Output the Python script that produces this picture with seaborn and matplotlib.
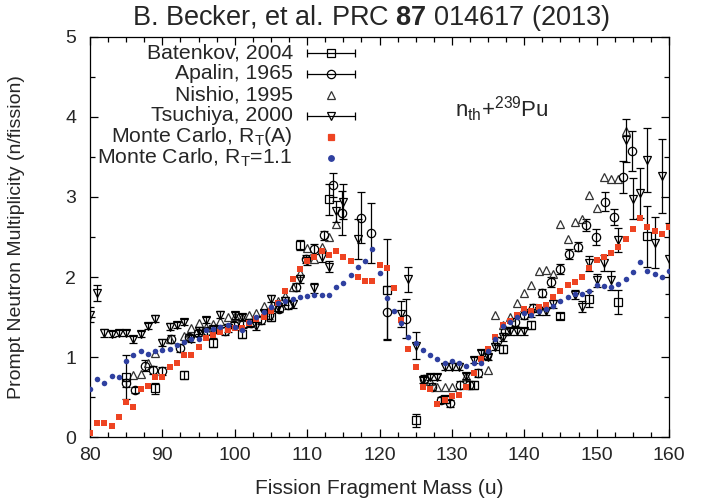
import matplotlib
matplotlib.use("Agg")
import matplotlib.pyplot as plt
import numpy as np
import pandas as pd
import seaborn as sns
from matplotlib.ticker import MultipleLocator
from matplotlib.lines import Line2D

# ---------------- data ----------------
mass_model = list(range(80, 161))
nu_rta = [0.05, 0.17, 0.18, 0.14, 0.25, 0.44, 0.37, 0.60, 0.64, 0.75,
          0.75, 0.88, 0.93, 1.02, 1.03, 1.12, 1.24, 1.28, 1.31, 1.34,
          1.36, 1.36, 1.43, 1.47, 1.50, 1.58, 1.67, 1.82, 1.97, 2.10,
          2.20, 2.25, 2.33, 2.28, 2.32, 2.25, 2.20, 2.00, 1.95, 1.95,
          2.15, 2.11, 1.86, 1.46, 1.10, 0.87, 0.62, 0.60, 0.41, 0.46,
          0.51, 0.53, 0.63, 0.80, 0.97, 1.10, 1.25, 1.40, 1.45, 1.53,
          1.60, 1.58, 1.62, 1.65, 1.75, 1.82, 1.90, 1.94, 2.00, 2.11,
          2.21, 2.25, 2.30, 2.38, 2.48, 2.60, 2.74, 2.63, 2.57, 2.54,
          2.62]
nu_rt11 = [0.60, 0.72, 0.67, 0.76, 0.75, 0.95, 1.02, 1.07, 1.04, 1.08,
           1.09, 1.10, 1.15, 1.19, 1.22, 1.23, 1.34, 1.35, 1.38, 1.40,
           1.37, 1.34, 1.44, 1.50, 1.56, 1.62, 1.67, 1.70, 1.72, 1.75,
           1.76, 1.77, 1.78, 1.78, 1.87, 1.93, 2.03, 2.12, 2.20, 2.35,
           2.05, 1.74, 1.58, 1.43, 1.25, 1.18, 1.09, 1.03, 0.98, 0.93,
           0.95, 0.92, 0.89, 0.92, 0.93, 1.07, 1.23, 1.39, 1.44, 1.50,
           1.55, 1.53, 1.57, 1.60, 1.64, 1.70, 1.75, 1.79, 1.79, 1.82,
           1.90, 1.89, 1.88, 1.91, 1.98, 2.06, 2.19, 2.07, 2.04, 2.00,
           2.08]

bat_mass = [85, 89, 93, 97, 101, 105, 109, 113, 121, 125, 129, 133, 137, 141, 145, 149, 153, 157]
bat_nu   = [0.75, 0.61, 0.77, 1.18, 1.29, 1.50, 2.40, 2.97, 1.84, 0.21, 0.47, 0.65, 1.10, 1.40, 1.51, 1.72, 1.69, 2.51]
bat_err  = [0.28, 0.07, 0.05, 0.06, 0.05, 0.05, 0.06, 0.19, 0.63, 0.08, 0.04, 0.05, 0.05, 0.05, 0.04, 0.10, 0.15, 0.38]

apa_mass = [85.0, 86.2, 87.6, 88.7, 90.0, 91.2, 92.4, 93.7, 94.9, 96.2,
            97.4, 98.6, 99.9, 101.1, 102.3, 103.6, 104.8, 106.1, 107.3, 108.5,
            109.8, 111.0, 112.3, 113.6, 114.8, 117.5, 118.8, 121.1, 123.7, 126.1,
            127.3, 128.5, 129.8, 131.1, 132.4, 133.6, 134.9, 136.2, 137.4, 138.7,
            139.9, 141.2, 142.4, 143.7, 144.9, 146.2, 147.4, 148.6, 149.9, 151.2,
            152.4, 153.6, 154.9]
apa_nu = [0.67, 0.59, 0.89, 0.84, 0.82, 1.23, 1.11, 1.25, 1.30, 1.32,
          1.35, 1.33, 1.40, 1.41, 1.43, 1.46, 1.52, 1.60, 1.65, 1.88,
          2.23, 2.35, 2.52, 3.15, 2.80, 2.74, 2.55, 1.56, 1.48, 0.73,
          0.63, 0.46, 0.42, 0.65, 0.65, 0.80, 1.02, 1.20, 1.32, 1.44,
          1.53, 1.61, 1.80, 1.94, 2.10, 2.29, 2.38, 2.65, 2.50, 2.94,
          2.75, 3.25, 3.57]
apa_err = [0.05, 0.04, 0.07, 0.05, 0.05, 0.05, 0.05, 0.04, 0.04, 0.04,
           0.04, 0.05, 0.04, 0.05, 0.04, 0.05, 0.04, 0.04, 0.05, 0.05,
           0.05, 0.06, 0.06, 0.15, 0.27, 0.32, 0.37, 0.33, 0.24, 0.05,
           0.04, 0.04, 0.04, 0.05, 0.05, 0.05, 0.05, 0.05, 0.05, 0.05,
           0.05, 0.05, 0.05, 0.06, 0.06, 0.06, 0.06, 0.07, 0.10, 0.12,
           0.10, 0.20, 0.25]

nis_mass = [86, 87, 88, 89, 91, 93, 94, 95, 96, 97, 98, 99, 100, 101, 102, 103, 104, 105,
            106, 107, 108, 109, 110, 111, 112, 113, 114,
            127, 128, 129, 130, 132, 135, 136, 137, 138, 139, 140, 141, 142, 143, 144,
            145, 146, 147, 148, 149, 150, 151, 152, 153, 154]
nis_nu = [0.78, 0.79, 0.93, 1.05, 1.22, 1.26, 1.36, 1.43, 1.37, 1.41, 1.45, 1.50, 1.51, 1.50, 1.52, 1.55, 1.64, 1.62,
          1.70, 1.76, 1.87, 2.05, 2.36, 2.23, 2.38, 2.50, 2.66,
          0.70, 0.62, 0.63, 0.62, 0.76, 0.84, 1.53, 1.40, 1.50, 1.67, 1.80, 1.90, 2.07, 2.09, 2.04,
          2.66, 2.47, 2.69, 2.73, 3.03, 2.86, 3.25, 3.23, 3.23, 3.82]

tsu_mass = [80, 81, 82, 83, 84, 85, 86, 87, 88, 89, 90, 91, 92, 93, 94, 95, 96, 97, 98, 99,
            100, 101, 102, 103, 104, 105, 106, 107, 108, 109, 110, 111, 112, 113, 114, 115, 117,
            123, 124, 125, 126, 127, 128, 129, 130, 131, 132, 133, 134, 135, 136, 137, 138, 139,
            140, 141, 142, 143, 144, 147, 148, 149, 150, 151, 152, 153, 154, 155, 156, 157, 158,
            159, 160]
tsu_nu = [1.53, 1.80, 1.30, 1.29, 1.30, 1.30, 1.22, 1.29, 1.39, 1.48, 1.18, 1.38, 1.40, 1.44, 1.23, 1.33, 1.46, 1.35, 1.53, 1.36,
          1.52, 1.50, 1.42, 1.39, 1.55, 1.73, 1.62, 1.70, 1.66, 1.97, 2.20, 1.86, 2.25, 2.13, 2.82, 2.94, 2.47,
          1.54, 1.97, 1.14, 0.71, 0.75, 0.75, 0.88, 0.88, 0.88, 0.76, 0.96, 1.05, 1.00, 1.13, 1.25, 1.32, 1.32,
          1.32, 1.55, 1.57, 1.57, 1.66, 1.78, 1.63, 2.17, 1.96, 2.18, 1.96, 2.46, 3.71, 2.98, 3.05, 3.46, 2.43,
          3.26, 2.23]
tsu_err = [0.09, 0.10, 0.05, 0.04, 0.04, 0.04, 0.04, 0.04, 0.04, 0.04, 0.04, 0.04, 0.04, 0.04, 0.04, 0.04, 0.04, 0.04, 0.04, 0.05,
           0.04, 0.04, 0.04, 0.05, 0.04, 0.04, 0.05, 0.05, 0.05, 0.05, 0.05, 0.06, 0.06, 0.07, 0.13, 0.22, 0.25,
           0.16, 0.16, 0.17, 0.04, 0.04, 0.04, 0.04, 0.04, 0.04, 0.04, 0.04, 0.04, 0.04, 0.04, 0.05, 0.04, 0.04,
           0.04, 0.05, 0.05, 0.05, 0.05, 0.06, 0.07, 0.09, 0.08, 0.10, 0.12, 0.15, 0.27, 0.26, 0.31, 0.40, 0.32,
           0.46, 0.44]

legend_labels = ["Batenkov, 2004", "Apalin, 1965", "Nishio, 1995", "Tsuchiya, 2000",
                 r"Monte Carlo, R$_\mathrm{T}$(A)", r"Monte Carlo, R$_\mathrm{T}$=1.1"]
title_text = r"B. Becker, et al. PRC $\mathbf{87}$ 014617 (2013)"
xlabel_text = "Fission Fragment Mass (u)"
ylabel_text = "Prompt Neutron Multiplicity (n/fission)"
reaction_text = r"n$_\mathrm{th}$+$^{239}$Pu"

# ---------------- style ----------------
sns.set_theme(style="ticks")
plt.rcParams['font.family'] = ['Liberation Sans', 'DejaVu Sans']
plt.rcParams['mathtext.fontset'] = 'custom'
plt.rcParams['mathtext.rm'] = 'Liberation Sans'
plt.rcParams['mathtext.it'] = 'Liberation Sans:italic'
plt.rcParams['mathtext.bf'] = 'Liberation Sans:bold'

RED = '#ee4422'
BLUE = '#2f40a0'
W, H = 702, 503
L, R, T, B = 90, 669, 37, 437

fig = plt.figure(figsize=(W / 100, H / 100), dpi=100)
ax = fig.add_axes([L / W, 1 - B / H, (R - L) / W, (B - T) / H])

ebkw = dict(ecolor='black', elinewidth=0.9, capsize=2.8, capthick=0.9,
            mfc='none', mec='black', mew=0.9, ls='none', zorder=3)
ax.errorbar(bat_mass, bat_nu, yerr=bat_err, fmt='s', ms=5.2, **ebkw)
ax.errorbar(apa_mass, apa_nu, yerr=apa_err, fmt='o', ms=6.0, **ebkw)
ax.plot(nis_mass, nis_nu, ls='none', marker='^', ms=6.2, mfc='none', mec='#333333', mew=0.9, zorder=3)
ax.errorbar(tsu_mass, tsu_nu, yerr=tsu_err, fmt='v', ms=6.2, **ebkw)

model = pd.DataFrame({'A': mass_model, 'RTA': nu_rta, 'RT11': nu_rt11})
sns.scatterplot(data=model, x='A', y='RTA', ax=ax, marker='s', s=20, color=RED,
                linewidth=0, zorder=4)
sns.scatterplot(data=model, x='A', y='RT11', ax=ax, marker='o', s=16, color=BLUE,
                linewidth=0, zorder=5)

ax.set_xlim(80, 160)
ax.set_ylim(0, 5)
ax.xaxis.set_major_locator(MultipleLocator(10))
ax.xaxis.set_minor_locator(MultipleLocator(2.5))
ax.yaxis.set_major_locator(MultipleLocator(1))
ax.yaxis.set_minor_locator(MultipleLocator(0.5))
ax.tick_params(which='both', direction='in', top=True, right=True, color='black', width=0.9)
ax.tick_params(which='major', length=6)
ax.tick_params(which='minor', length=3.5)
ax.tick_params(axis='x', which='major', labelsize=14, pad=7)
ax.tick_params(axis='y', which='major', labelsize=14, pad=10)
for s in ax.spines.values():
    s.set_color('black')
    s.set_linewidth(0.9)
ax.grid(False)

ax.set_xlabel(xlabel_text, fontsize=15)
ax.set_ylabel(ylabel_text, fontsize=14)
ax.xaxis.set_label_coords(0.5, (B - 479) / (B - T))
ax.yaxis.set_label_coords((25 - L) / (R - L), 0.5)

fig.text(371 / W, 1 - 18 / H, title_text, ha='center', va='center', fontsize=19.5)

ax.text(130.4, 4.1, reaction_text, fontsize=16, ha='left', va='center')

# ---------------- legend (gnuplot-style key) ----------------
def fx(px):
    return (px - L) / (R - L)

def fy(py):
    return (B - py) / (B - T)

key_styles = [
    dict(marker='s', ms=5.2, mfc='none', mec='black', bar=True),
    dict(marker='o', ms=6.0, mfc='none', mec='black', bar=True),
    dict(marker='^', ms=6.2, mfc='none', mec='#333333', bar=False),
    dict(marker='v', ms=6.2, mfc='none', mec='black', bar=True),
    dict(marker='s', ms=4.5, mfc=RED, mec=RED, bar=False),
    dict(marker='o', ms=4.0, mfc=BLUE, mec=BLUE, bar=False),
]
for i, (lab, st) in enumerate(zip(legend_labels, key_styles)):
    yy = fy(53 + 21 * i)
    ax.text(fx(293), yy, lab, transform=ax.transAxes, ha='right', va='center', fontsize=15.3)
    if st['bar']:
        ax.add_line(Line2D([fx(307), fx(355)], [yy, yy], transform=ax.transAxes,
                           color='black', lw=0.9))
        ax.add_line(Line2D([fx(307), fx(355)], [yy, yy], transform=ax.transAxes,
                           ls='none', marker='|', ms=6, mew=0.9, color='black'))
    ax.add_line(Line2D([fx(331)], [yy], transform=ax.transAxes, ls='none',
                       marker=st['marker'], ms=st['ms'], mfc=st['mfc'], mec=st['mec'],
                       mew=0.9, zorder=6))

fig.savefig("out.png", dpi=100)
